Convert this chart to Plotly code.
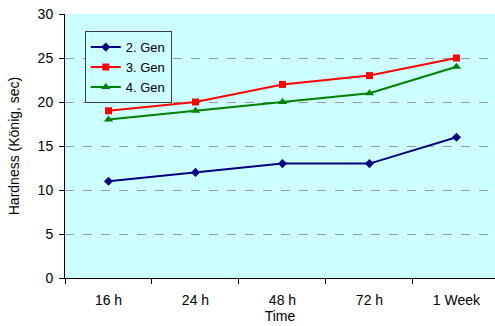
import plotly.graph_objects as go

categories = ["16 h", "24 h", "48 h", "72 h", "1 Week"]
gen2 = [11, 12, 13, 13, 16]
gen3 = [19, 20, 22, 23, 25]
gen4 = [18, 19, 20, 21, 24]

font = "Liberation Sans, Arial, sans-serif"

fig = go.Figure()
fig.add_trace(go.Scatter(
    x=categories, y=gen2, name="2. Gen", mode="lines+markers",
    line=dict(color="#000080", width=2),
    marker=dict(symbol="diamond", size=7, color="#000080"),
))
fig.add_trace(go.Scatter(
    x=categories, y=gen3, name="3. Gen", mode="lines+markers",
    line=dict(color="#FF0000", width=2),
    marker=dict(symbol="square", size=7, color="#FF0000"),
))
fig.add_trace(go.Scatter(
    x=categories, y=gen4, name="4. Gen", mode="lines+markers",
    line=dict(color="#008000", width=2),
    marker=dict(symbol="triangle-up", size=8, color="#008000"),
))

fig.update_layout(
    width=495, height=326,
    margin=dict(l=65, r=0, t=14, b=48),
    paper_bgcolor="white",
    plot_bgcolor="#CCFFFF",
    font=dict(family=font, size=14, color="black"),
    showlegend=True,
    legend=dict(
        x=0.046, y=0.935, xanchor="left", yanchor="top",
        bgcolor="#CCFFFF", bordercolor="#404040", borderwidth=1,
        font=dict(family=font, size=13),
        itemwidth=30, tracegroupgap=0,
    ),
    xaxis=dict(
        type="category", range=[-0.5, 4.443],
        showline=True, linecolor="black", linewidth=1,
        ticks="outside", tickson="boundaries", ticklen=5, tickcolor="black",
        ticklabelstandoff=9,
        showgrid=False, zeroline=False,
        title=dict(text="Time", font=dict(size=14), standoff=4),
        tickfont=dict(size=14),
    ),
    yaxis=dict(
        range=[0, 30], dtick=5,
        showline=True, linecolor="black", linewidth=1,
        ticks="outside", ticklen=5, tickcolor="black",
        ticklabelstandoff=3,
        showgrid=True, gridcolor="#999999", griddash="dash", gridwidth=1,
        zeroline=False,
        title=dict(text="Hardness (König, sec)", font=dict(size=14), standoff=14),
        tickfont=dict(size=14),
    ),
)

fig.write_html("out.html")
